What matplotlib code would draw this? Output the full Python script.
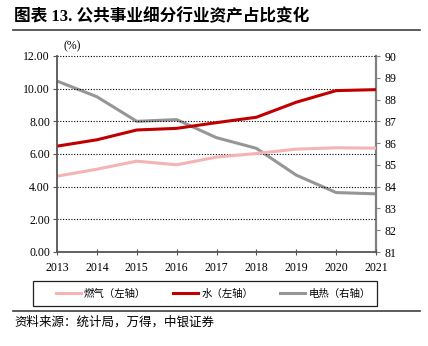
import matplotlib
matplotlib.use("Agg")
import matplotlib.pyplot as plt
from matplotlib.lines import Line2D
from matplotlib.patches import Rectangle

plt.rcParams['font.family'] = ['Liberation Serif', 'Noto Sans CJK SC', 'DejaVu Sans']

years = [2013, 2014, 2015, 2016, 2017, 2018, 2019, 2020, 2021]
gas = [4.64, 5.07, 5.56, 5.34, 5.81, 6.03, 6.30, 6.38, 6.36]
water = [6.48, 6.87, 7.47, 7.57, 7.92, 8.25, 9.17, 9.88, 9.94]
power = [88.85, 88.13, 87.00, 87.08, 86.25, 85.76, 84.53, 83.73, 83.67]

left_ticks = [0, 2, 4, 6, 8, 10, 12]
right_ticks = list(range(81, 91))

fig = plt.figure(figsize=(4.28, 3.46), dpi=100)
W, H = 428, 346

ax = fig.add_axes([57 / W, 1 - 252 / H, (376 - 57) / W, (252 - 56) / H])
ax2 = ax.twinx()

c_gas, c_water, c_power = '#F4B4B4', '#C00000', '#969696'
ax2.plot(years, power, color=c_power, lw=2.2, solid_capstyle='butt')
ax.plot(years, gas, color=c_gas, lw=2.2, solid_capstyle='butt')
ax.plot(years, water, color=c_water, lw=2.2, solid_capstyle='butt')
ax.set_zorder(ax2.get_zorder() + 1)
ax.patch.set_visible(False)

ax.set_xlim(2013, 2021)
ax.set_ylim(0, 12)
ax2.set_ylim(81, 90)
ax.set_xticks(years)
ax.set_yticks(left_ticks)
ax.set_yticklabels([f'{v:.2f}' for v in left_ticks])
ax2.set_yticks(right_ticks)

for v in left_ticks[1:]:
    ax.axhline(v, color='black', lw=0.8, ls=(0, (1, 1.5)), zorder=0, clip_on=False)

for a in (ax, ax2):
    a.spines['top'].set_visible(False)
ax.spines['left'].set_color('#555555')
ax.spines['left'].set_linewidth(1.3)
ax.spines['bottom'].set_color('#555555')
ax.spines['bottom'].set_linewidth(1.3)
ax.spines['right'].set_visible(False)
ax2.spines['left'].set_visible(False)
ax2.spines['bottom'].set_visible(False)
ax2.spines['right'].set_color('#808080')
ax2.spines['right'].set_linewidth(1.6)

ax.tick_params(axis='y', direction='out', length=3, width=0.8, color='#555555',
               labelsize=8.5, pad=2)
ax.tick_params(axis='x', direction='inout', length=4, width=0.8, color='#555555',
               labelsize=8.5, pad=5)
ax2.tick_params(axis='y', direction='out', length=3, width=0.8, color='#808080',
                labelsize=8.5, pad=3)

ax.text(72 / W, 1 - 46 / H, '(%)', transform=fig.transFigure, fontsize=8.5,
        ha='center', va='center')

# title and rules
fig.text(14 / W, 1 - 17 / H, '图表 13. 公共事业细分行业资产占比变化', fontsize=12,
         fontweight='bold', ha='left', va='center')
fig.add_artist(Line2D([13 / W, 420 / W], [1 - 30 / H, 1 - 30 / H], color='#404040', lw=1.2))
fig.add_artist(Line2D([13 / W, 420 / W], [1 - 311 / H, 1 - 311 / H], color='#404040', lw=1.2))
fig.text(14 / W, 1 - 322 / H, '资料来源：统计局，万得，中银证券', fontsize=9,
         ha='left', va='center')

# legend box
fig.add_artist(Rectangle((33 / W, 1 - 306 / H), 344 / W, 25 / H, transform=fig.transFigure,
                         fill=False, edgecolor='#202020', lw=0.9))
handles = [Line2D([], [], color=c_gas, lw=2.2),
           Line2D([], [], color=c_water, lw=2.2),
           Line2D([], [], color=c_power, lw=2.2)]
labels = ['燃气（左轴）', '水（左轴）', '电热（右轴）']
leg = fig.legend(handles, labels, ncol=3, loc='center',
                 bbox_to_anchor=(213 / W, 1 - 293.5 / H), fontsize=7.5,
                 frameon=False, handlelength=2.4, handletextpad=0.3,
                 columnspacing=2.6, borderpad=0.3)

fig.savefig('out.png', dpi=100)
